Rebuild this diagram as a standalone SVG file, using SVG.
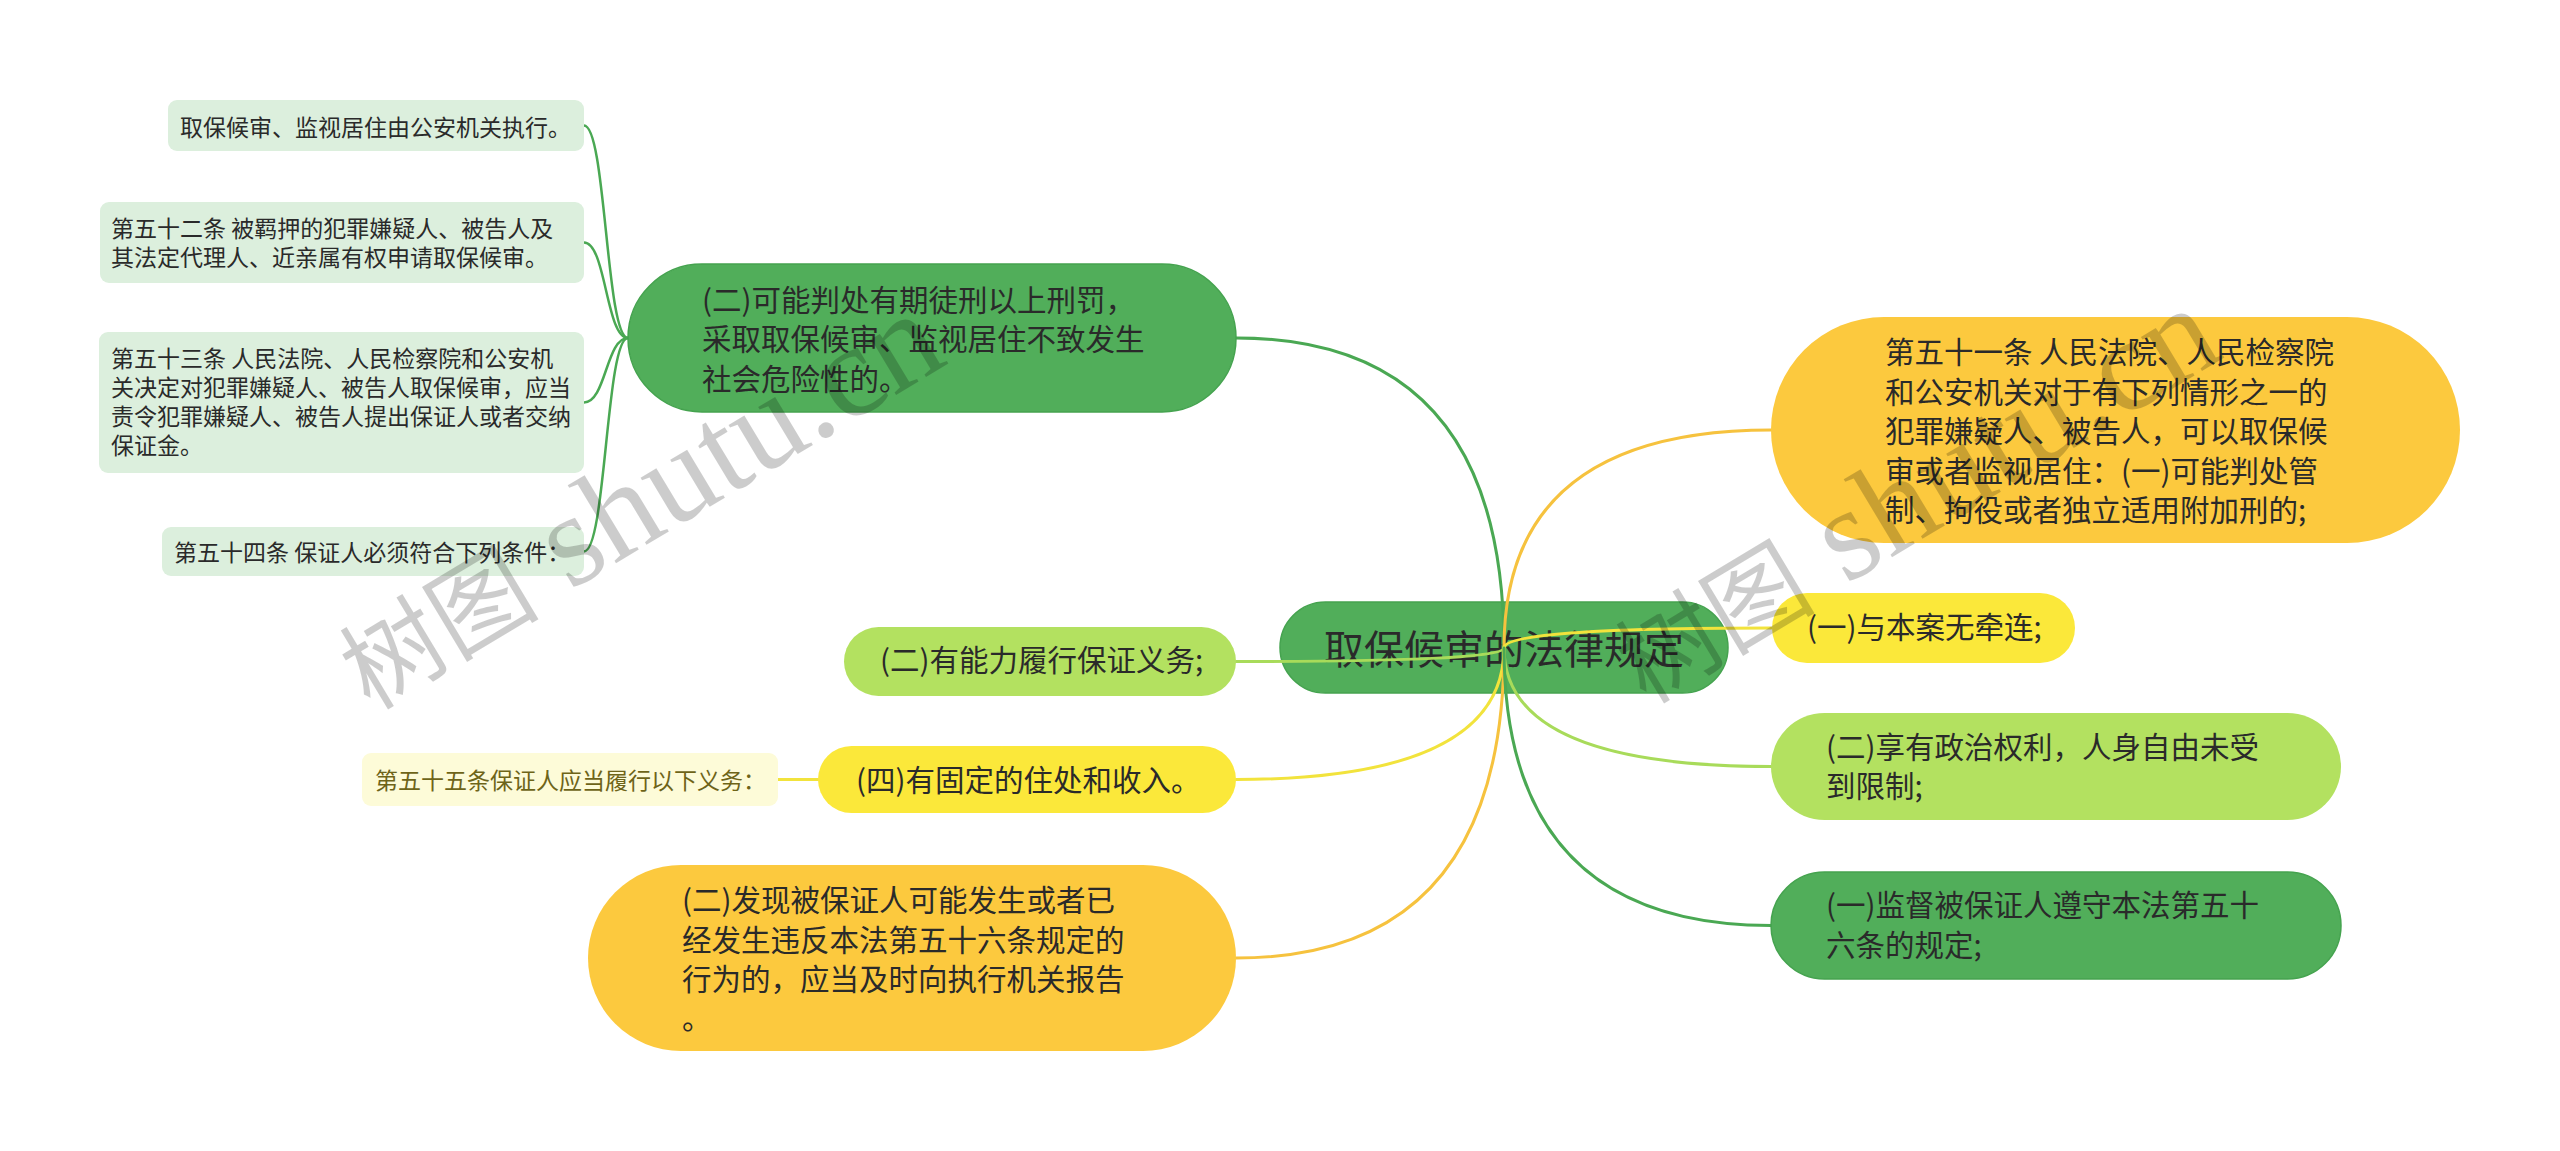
<svg xmlns="http://www.w3.org/2000/svg" width="2560" height="1151" viewBox="0 0 2560 1151">
  <style>
    .t { font-family: "Noto Sans CJK SC", "Liberation Sans", sans-serif; fill: #2a2a2a; }
    .big { font-size: 29.5px; }
    .small { font-size: 23px; }
    .dg { fill: #51ae5a; stroke: #45a34f; stroke-width: 1.5; }
    .or { fill: #fcc93e; }
    .ye { fill: #fbe83a; }
    .lg { fill: #b3e160; }
    .pg { fill: #dcefdd; }
    .py { fill: #fdfbd8; }
    .c { fill: none; stroke-width: 3; stroke-linecap: round; }
    .cg { stroke: #4aa853; }
    .co { stroke: #f6c23e; }
    .cy { stroke: #f2e33c; }
    .cl { stroke: #a8db5a; }
    .wm { font-family: "Liberation Serif", "Noto Sans CJK SC", serif; fill: #000; fill-opacity: 0.2; }
  </style>
  <rect x="0" y="0" width="2560" height="1151" fill="#ffffff"/>

  <g id="root">
    <rect class="dg" x="1280" y="602" width="448" height="91" rx="45.5"/>
    <text class="t" x="1504" y="664" font-size="40" text-anchor="middle">取保候审的法律规定</text>
  </g>

  <g id="connectors">
    <path class="c cg" d="M1504 648 Q1504 338 1236 338"/>
    <path class="c cl" d="M1504 648 Q1504 661.5 1236 661.5"/>
    <path class="c cy" d="M1504 648 Q1504 779.5 1236 779.5"/>
    <path class="c co" d="M1504 648 Q1504 958 1236 958"/>
    <path class="c co" d="M1504 648 Q1504 430 1771 430"/>
    <path class="c cy" d="M1504 648 Q1504 628 1771 628"/>
    <path class="c cl" d="M1504 648 Q1504 766.5 1771 766.5"/>
    <path class="c cg" d="M1504 648 Q1504 925.5 1771 925.5"/>
    <path class="c cg" style="stroke-width:2.5" d="M584 125.5 C606 125.5 606 338 628 338"/>
    <path class="c cg" style="stroke-width:2.5" d="M584 242.5 C606 242.5 606 338 628 338"/>
    <path class="c cg" style="stroke-width:2.5" d="M584 402.5 C606 402.5 606 338 628 338"/>
    <path class="c cg" style="stroke-width:2.5" d="M584 551.5 C606 551.5 606 338 628 338"/>
    <path class="c cy" d="M778 779.5 L818 779.5"/>
  </g>

  <g id="n1">
    <rect class="dg" x="628" y="264" width="608" height="148" rx="74"/>
    <text class="t big" x="702" y="311">(二)可能判处有期徒刑以上刑罚，<tspan x="702" y="350">采取取保候审、监视居住不致发生</tspan><tspan x="702" y="389.5">社会危险性的。</tspan></text>
  </g>

  <g id="n1a">
    <rect class="pg" x="168" y="100" width="416" height="51" rx="9"/>
    <text class="t small" x="180" y="135.5">取保候审、监视居住由公安机关执行。</text>
  </g>
  <g id="n1b">
    <rect class="pg" x="100" y="202" width="484" height="81" rx="9"/>
    <text class="t small" x="111" y="236.5">第五十二条 被羁押的犯罪嫌疑人、被告人及<tspan x="111" y="266">其法定代理人、近亲属有权申请取保候审。</tspan></text>
  </g>
  <g id="n1c">
    <rect class="pg" x="99" y="332" width="485" height="141" rx="9"/>
    <text class="t small" x="111" y="366.5">第五十三条 人民法院、人民检察院和公安机<tspan x="111" y="395.5">关决定对犯罪嫌疑人、被告人取保候审，应当</tspan><tspan x="111" y="424.5">责令犯罪嫌疑人、被告人提出保证人或者交纳</tspan><tspan x="111" y="453.5">保证金。</tspan></text>
  </g>
  <g id="n1d">
    <rect class="pg" x="162" y="527" width="422" height="49" rx="9"/>
    <text class="t small" x="174" y="560.5">第五十四条 保证人必须符合下列条件：</text>
  </g>

  <g id="n2">
    <rect class="lg" x="844" y="627" width="392" height="69" rx="34.5"/>
    <text class="t big" x="880" y="671">(二)有能力履行保证义务;</text>
  </g>

  <g id="n3">
    <rect class="ye" x="818" y="746" width="418" height="67" rx="33.5"/>
    <text class="t big" x="856" y="791">(四)有固定的住处和收入。</text>
  </g>
  <g id="n3a">
    <rect class="py" x="362" y="753" width="416" height="53" rx="9"/>
    <text class="t small" x="375" y="788.5" style="fill:#6e6418">第五十五条保证人应当履行以下义务：</text>
  </g>

  <g id="n4">
    <rect class="or" x="588" y="865" width="648" height="186" rx="93"/>
    <text class="t big" x="682" y="911">(二)发现被保证人可能发生或者已<tspan x="682" y="950.5">经发生违反本法第五十六条规定的</tspan><tspan x="682" y="989.5">行为的，应当及时向执行机关报告</tspan><tspan x="682" y="1029">。</tspan></text>
  </g>

  <g id="n5">
    <rect class="or" x="1771" y="317" width="689" height="226" rx="113"/>
    <text class="t big" x="1885" y="363">第五十一条 人民法院、人民检察院<tspan x="1885" y="402.5">和公安机关对于有下列情形之一的</tspan><tspan x="1885" y="442">犯罪嫌疑人、被告人，可以取保候</tspan><tspan x="1885" y="481.5">审或者监视居住：(一)可能判处管</tspan><tspan x="1885" y="521">制、拘役或者独立适用附加刑的;</tspan></text>
  </g>

  <g id="n6">
    <rect class="ye" x="1772" y="593" width="303" height="70" rx="35"/>
    <text class="t big" x="1807" y="638">(一)与本案无牵连;</text>
  </g>

  <g id="n7">
    <rect class="lg" x="1771" y="713" width="570" height="107" rx="53.5"/>
    <text class="t big" x="1826" y="757.5">(二)享有政治权利，人身自由未受<tspan x="1826" y="797">到限制;</tspan></text>
  </g>

  <g id="n8">
    <rect class="dg" x="1771" y="872" width="570" height="107" rx="53.5"/>
    <text class="t big" x="1826" y="916">(一)监督被保证人遵守本法第五十<tspan x="1826" y="956">六条的规定;</tspan></text>
  </g>

  <g id="watermarks">
    <text class="wm" transform="translate(370 711) rotate(-31)"><tspan font-size="100">树图</tspan><tspan font-size="132"> shutu.cn</tspan></text>
    <text class="wm" transform="translate(1646 705) rotate(-31)"><tspan font-size="100">树图</tspan><tspan font-size="132"> shutu.cn</tspan></text>
  </g>
</svg>
